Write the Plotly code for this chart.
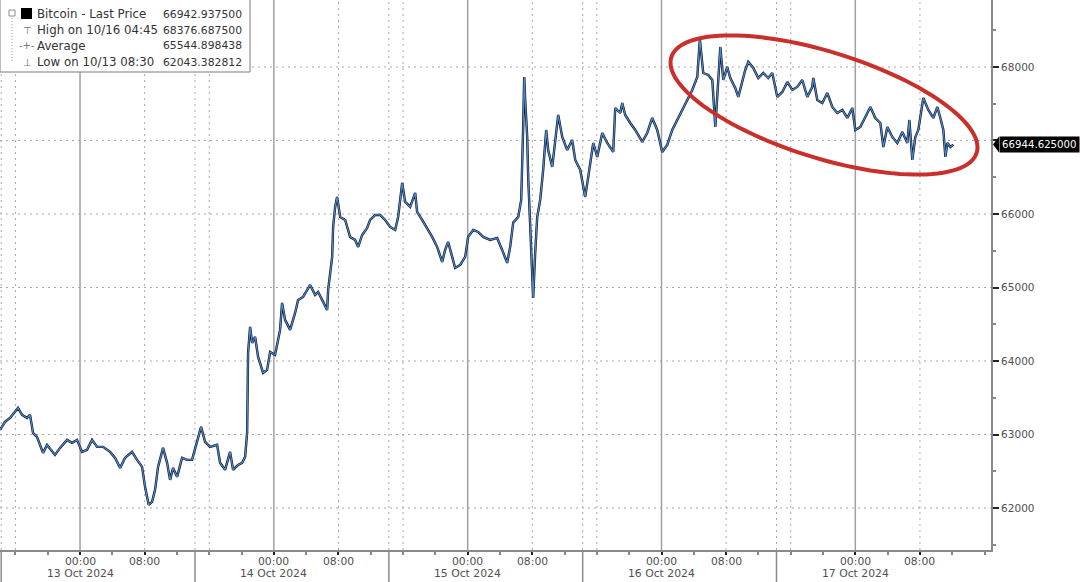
import numpy as np
import pandas as pd
import plotly.graph_objects as go

BASE = pd.Timestamp("2024-10-13 00:00")

# heures depuis le 13 Oct 2024 00:00 et prix BTC
hours = [
    -9.91, -9.29, -8.67, -8.05, -7.68, -7.18, -6.57, -6.19, -5.82, -5.33,
    -4.95, -4.58, -4.09, -3.47, -3.10, -2.48, -1.61, -0.99, -0.37, 0.25,
    0.87, 1.49, 2.11, 2.85, 3.72, 4.34, 4.96, 5.57, 6.44, 7.06,
    7.68, 8.05, 8.42, 8.50, 8.92, 9.29, 9.66, 10.28, 10.78, 11.15,
    11.52, 12.02, 12.63, 13.25, 13.87, 14.49, 14.99, 15.48, 16.10, 16.97,
    17.34, 17.96, 18.58, 18.95, 19.57, 20.07, 20.44, 20.69,
    # 13 Oct soir -> 14 Oct
    20.75, 20.81, 21.06, 21.31, 21.68, 22.05, 22.67, 23.16, 23.54, 24.15,
    24.77, 25.02, 25.39, 26.01, 26.63, 27.00, 27.62, 28.49, 29.11, 29.48,
    30.10, 30.60, 30.72, 31.22, 31.34, 31.59, 31.83, 32.21, 32.83, 33.44,
    34.06, 34.44, 34.93, 35.55, 35.92, 36.54, 37.16, 37.78, 38.40, 39.02,
    39.39, 39.89, 40.26, 40.88, 41.50, 41.74, 42.36, 42.98, 43.60, 44.22,
    44.84, 45.21, 45.58, 46.08, 46.45, 47.07, 47.69, 48.06, 48.68, 49.30,
    # 15 Oct
    49.92, 50.79, 51.65, 52.27, 52.89, 53.26, 53.64, 54.26, 54.63, 54.87,
    55.00, 55.12, 55.37, 55.49, 55.74, 55.99, 56.11, 56.36, 56.61, 56.98,
    57.35, 57.72, 57.97, 58.47, 58.84, 59.21, 59.71, 60.32, 60.94, 61.32,
    61.94, 62.55, 62.93, 63.55, 64.04, 64.66, 65.28, 66.02, 66.27, 66.89,
    67.14, 67.51, 68.13, 68.75, 69.62, 70.23, 70.85, 71.47, 72.09, 72.71,
    73.33, 73.95, 74.57, 75.19, 75.81, 76.43,
    # 16 Oct -> 17 Oct
    76.75, 77.17, 77.79, 78.29, 78.66, 78.90, 79.28, 79.65, 80.14, 80.52,
    81.13, 81.51, 82.00, 82.37, 82.75, 83.37, 83.98, 84.60, 85.22, 85.72,
    86.34, 86.96, 87.58, 88.20, 88.81, 89.43, 90.05, 90.67, 90.80, 91.29,
    91.91, 92.53, 93.15, 93.77, 94.39, 95.01, 95.63, 96.00, 96.62, 97.24,
    97.86, 98.48, 99.10, 99.47, 99.96, 100.58, 101.20, 101.82, 102.44, 102.69,
    103.06, 103.43, 103.80, 104.42, 105.04, 105.66, 106.16, 106.53, 106.90, 107.15,
    107.40, 107.77, 108.14,
]
price = [
    63063, 63172, 63226, 63308, 63362, 63267, 63226, 63267, 63022, 62968,
    62859, 62750, 62859, 62764, 62723, 62818, 62927, 62886, 62927, 62764,
    62791, 62927, 62832, 62832, 62764, 62682, 62546, 62682, 62764, 62655,
    62560, 62288, 62111, 62043, 62084, 62247, 62560, 62818, 62615, 62383,
    62546, 62424, 62682, 62655, 62655, 62900, 63104, 62900, 62832, 62859,
    62615, 62519, 62764, 62519, 62587, 62615, 62696, 63022,
    63743, 64110, 64464, 64246, 64328, 64056, 63838, 63879, 64124, 64083,
    64423, 64790, 64559, 64423, 64654, 64831, 64872, 65035, 64899, 64940,
    64804, 64695, 64967, 65416, 65824, 66096, 66232, 65960, 65919, 65688,
    65647, 65552, 65715, 65810, 65919, 65987, 65987, 65919, 65824, 65783,
    65960, 66422, 66164, 66096, 66286, 66028, 65919, 65810, 65688, 65552,
    65348, 65511, 65620, 65416, 65266, 65307, 65416, 65688, 65783, 65756,
    65688, 65647, 65674, 65511, 65334, 65552, 65885, 65960, 66191, 67184,
    67864, 67551, 67048, 66504, 65824, 65280, 64858, 65470, 65960, 66191,
    66599, 67143, 66871, 66640, 66966, 67347, 67048, 66871, 67007, 66735,
    66599, 66232, 66504, 66966, 66776, 67102, 66966, 66844, 67442, 67374,
    67510, 67347, 67238, 67143, 66980, 67102, 67306, 67143, 66844, 66939,
    67143, 67279, 67415, 67551, 67687, 67864,
    68377, 67918, 67891, 67823, 67184, 67592, 68272, 67823, 68000, 67850,
    67714, 67592, 67823, 67959, 68068, 67986, 67850, 67918, 67850, 67918,
    67592, 67660, 67796, 67687, 67728, 67823, 67592, 67728, 67850, 67551,
    67510, 67646, 67456, 67374, 67415, 67306, 67442, 67143, 67184, 67320,
    67456, 67306, 67238, 66911, 67184, 67048, 66966, 67116, 66966, 67279,
    66735, 67048, 67143, 67578, 67415, 67306, 67456, 67306, 67143, 66776,
    66966, 66911, 66943,
]

days = ["2024-10-13", "2024-10-14", "2024-10-15", "2024-10-16", "2024-10-17"]
day_labels = ["13 Oct 2024", "14 Oct 2024", "15 Oct 2024", "16 Oct 2024", "17 Oct 2024"]
time_labels = ["00:00", "08:00"]
y_ticks = [62000, 63000, 64000, 65000, 66000, 67000, 68000]
y_labels = ["62000", "63000", "64000", "65000", "66000", "", "68000"]  # 67000 masqué par l'étiquette

legend_labels = ["Bitcoin - Last Price", "High on 10/16 04:45", "Average", "Low on 10/13 08:30"]
legend_values = ["66942.937500", "68376.687500", "65544.898438", "62043.382812"]
last_tag = "66944.625000"
last_value = 66944.625

W, H = 1080, 582
PW, PH = 991, 550          # zone de tracé en px
x_lo, x_hi = -9.91, 112.8  # heures
y_lo, y_hi = 61429, 68911
SEP_H = 14.24              # séparateurs de jours (heure)


def hx(h):
    return BASE + pd.Timedelta(hours=h)


def px(x):
    return x / PW


def py(y):
    return 1 - y / PH


t = [hx(h) for h in hours]
FONT = "DejaVu Sans"
GRID = "#a8a8a8"
DOT = "2px,4px"

fig = go.Figure()
fig.add_trace(go.Scatter(x=t, y=price, mode="lines", line=dict(color="#111111", width=2.4),
                         hoverinfo="skip", showlegend=False))
fig.add_trace(go.Scatter(x=t, y=price, mode="lines", line=dict(color="#4a88d8", width=1.2),
                         showlegend=False))

shapes = []
for v in y_ticks:
    shapes.append(dict(type="line", xref="paper", yref="y", x0=0, x1=1, y0=v, y1=v,
                       line=dict(color=GRID, width=1, dash=DOT), layer="below"))

day_ts = [pd.Timestamp(d) for d in days]
for d in day_ts:
    shapes.append(dict(type="line", xref="x", yref="paper", x0=d, x1=d, y0=0, y1=1,
                       line=dict(color="#a0a0a0", width=1.5), layer="below"))
dotted = [day_ts[0] - pd.Timedelta(hours=8)]
for d in day_ts:
    dotted.append(d + pd.Timedelta(hours=8))
    if d != day_ts[-1]:
        dotted.append(d + pd.Timedelta(hours=16))
seps = [d + pd.Timedelta(hours=SEP_H - 24) for d in day_ts]
for d in dotted + seps:
    shapes.append(dict(type="line", xref="x", yref="paper", x0=d, x1=d, y0=0, y1=1,
                       line=dict(color=GRID, width=1, dash=DOT), layer="below"))
for d in seps:
    shapes.append(dict(type="line", xref="x", yref="paper", x0=d, x1=d, y0=0, y1=-(H - PH) / PH,
                       line=dict(color="#8a8a8a", width=1.5)))

# ellipse rouge
cx, cy, a, b, th = 824, 105, 160, 53, np.deg2rad(17.4)
tt = np.linspace(0, 2 * np.pi, 120)
ex = cx + a * np.cos(tt) * np.cos(th) - b * np.sin(tt) * np.sin(th)
ey = cy + a * np.cos(tt) * np.sin(th) + b * np.sin(tt) * np.cos(th)
path = "M " + " L ".join(f"{px(u):.5f},{py(w):.5f}" for u, w in zip(ex, ey)) + " Z"
shapes.append(dict(type="path", xref="paper", yref="paper", path=path,
                   line=dict(color="#c9302b", width=4)))

# étiquette du dernier prix
ty = py(0) - (y_hi - last_value) / (y_hi - y_lo)
hpx = 8 / PH
shapes.append(dict(type="path", xref="paper", yref="paper",
                   path=f"M {px(993)},{ty} L {px(999)},{ty + hpx} L {px(999)},{ty - hpx} Z",
                   fillcolor="black", line=dict(width=0)))

# boîte de légende
shapes.append(dict(type="rect", xref="paper", yref="paper", x0=px(0), x1=px(250),
                   y0=py(72), y1=py(-2), fillcolor="white", line=dict(color="#7a7a7a", width=1)))
shapes.append(dict(type="rect", xref="paper", yref="paper", x0=px(21), x1=px(32),
                   y0=py(19), y1=py(8), fillcolor="black", line=dict(width=0)))
shapes.append(dict(type="rect", xref="paper", yref="paper", x0=px(9), x1=px(15),
                   y0=py(16), y1=py(10), fillcolor="white", line=dict(color="#888", width=1)))
shapes.append(dict(type="line", xref="paper", yref="paper", x0=px(12), x1=px(12),
                   y0=py(61), y1=py(16), line=dict(color="#999", width=1, dash="1px,2px")))

annotations = []
rows_y = [14, 30, 46, 62]
icons = ["", "⊤", "-+-", "⊥"]
for lab, val, ry, ic in zip(legend_labels, legend_values, rows_y, icons):
    annotations.append(dict(xref="paper", yref="paper", x=px(35), y=py(ry), text=lab,
                            xanchor="left", yanchor="middle", showarrow=False,
                            font=dict(family=FONT, size=11.8, color="#333")))
    annotations.append(dict(xref="paper", yref="paper", x=px(244), y=py(ry), text=val,
                            xanchor="right", yanchor="middle", showarrow=False,
                            font=dict(family=FONT, size=10.8, color="#333")))
    if ic:
        annotations.append(dict(xref="paper", yref="paper", x=px(27), y=py(ry), text=ic,
                                xanchor="center", yanchor="middle", showarrow=False,
                                font=dict(family=FONT, size=10, color="#777")))
annotations.append(dict(xref="paper", yref="y", x=px(999), y=last_value, text=last_tag,
                        xanchor="left", yanchor="middle", showarrow=False, bgcolor="black",
                        borderpad=2, font=dict(family=FONT, size=10.2, color="white")))

# libellés de l'axe des temps
lab_font = dict(family=FONT, size=10.8, color="#505050")
for d, lab in zip(day_ts, day_labels):
    for hh, tl in zip([0, 8], time_labels):
        annotations.append(dict(xref="x", yref="paper", x=d + pd.Timedelta(hours=hh), y=py(553),
                                text=tl, xanchor="center", yanchor="top", showarrow=False,
                                font=lab_font))
    annotations.append(dict(xref="x", yref="paper", x=d, y=py(582), text=lab,
                            xanchor="center", yanchor="bottom", showarrow=False, font=lab_font))

tickvals = []
for d in day_ts:
    tickvals += [d, d + pd.Timedelta(hours=8)]

fig.update_layout(
    width=W, height=H,
    margin=dict(l=0, r=W - PW, t=0, b=H - PH),
    plot_bgcolor="white", paper_bgcolor="white",
    shapes=shapes, annotations=annotations,
    font=dict(family=FONT, size=11, color="#505050"),
    xaxis=dict(range=[hx(x_lo), hx(x_hi)], tickvals=tickvals, showticklabels=False,
               showgrid=False, zeroline=False, showline=True, linecolor="#8a8a8a", linewidth=2,
               ticks="outside", ticklen=3, tickwidth=2, tickcolor="#222",
               minor=dict(tick0="2024-10-13", dtick=4 * 3600 * 1000, ticks="outside",
                          ticklen=3, tickcolor="#888", showgrid=False)),
    yaxis=dict(range=[y_lo, y_hi], side="right", tickvals=y_ticks, ticktext=y_labels,
               showgrid=False, zeroline=False, showline=True,
               linecolor="#8a8a8a", linewidth=2, ticks="outside", ticklen=6, tickwidth=2,
               tickcolor="#222",
               minor=dict(dtick=500, ticks="outside", ticklen=3, tickcolor="#888", showgrid=False),
               tickfont=dict(family=FONT, size=10.5, color="#505050")),
)

fig.write_html("out.html", config={"displayModeBar": False},
               post_script="document.body.style.margin='0';")
